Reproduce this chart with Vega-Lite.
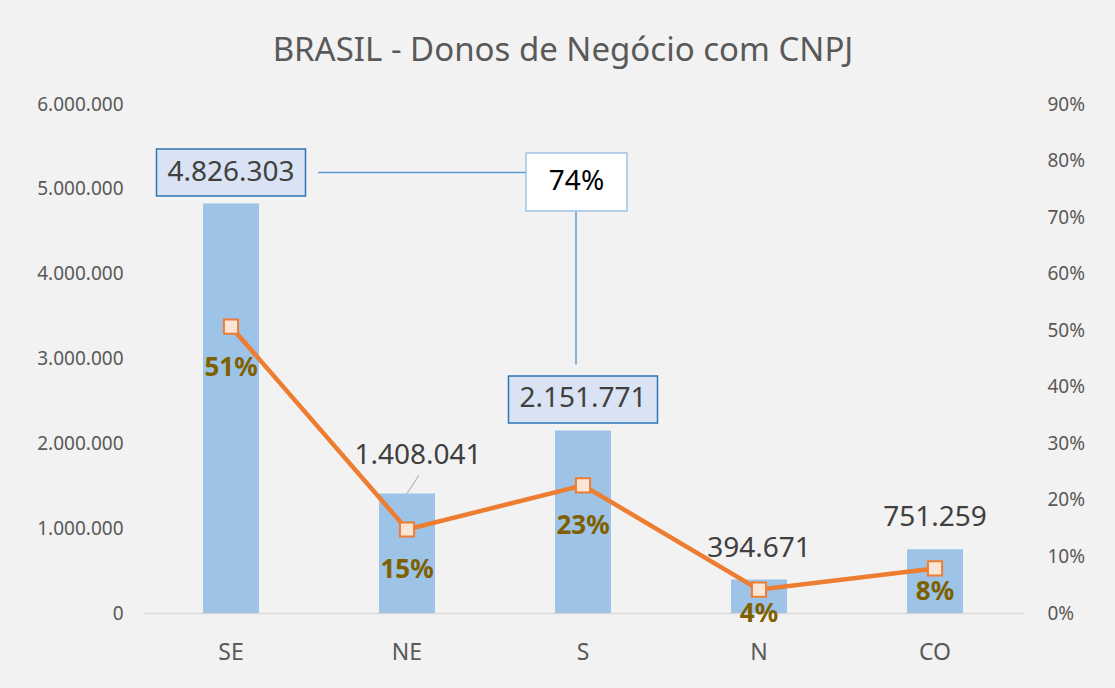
{
  "$schema": "https://vega.github.io/schema/vega-lite/v6.json",
  "width": 880,
  "height": 509,
  "autosize": {"type": "none"},
  "padding": {"left": 143, "top": 104, "right": 92, "bottom": 75},
  "background": "#f2f2f2",
  "title": {
    "text": "BRASIL - Donos de Negócio com CNPJ",
    "font": "Noto Sans",
    "fontSize": 33,
    "fontWeight": "normal",
    "color": "#595959",
    "anchor": "middle",
    "frame": "group",
    "baseline": "alphabetic",
    "offset": 1,
    "dx": -20
  },
  "config": {
    "font": "Noto Sans",
    "view": {"stroke": null},
    "axis": {"grid": false, "titleFont": "Noto Sans", "labelFont": "Noto Sans"},
    "locale": {"number": {"decimal": ",", "thousands": ".", "grouping": [3], "currency": ["R$", ""]}}
  },
  "datasets": {
    "regions": [
      {"region": "SE", "value": 4826303, "pct": 0.5063},
      {"region": "NE", "value": 1408041, "pct": 0.1477},
      {"region": "S", "value": 2151771, "pct": 0.2257},
      {"region": "N", "value": 394671, "pct": 0.0414},
      {"region": "CO", "value": 751259, "pct": 0.0788}
    ],
    "total": [{"label": "74%", "pct": 0.74}]
  },
  "data": {"name": "regions"},
  "encoding": {
    "x": {
      "field": "region",
      "type": "nominal",
      "sort": null,
      "scale": {"paddingInner": 0, "paddingOuter": 0},
      "axis": {
        "title": null,
        "labelAngle": 0,
        "ticks": false,
        "domainColor": "#d9d9d9",
        "domainWidth": 1.5,
        "labelFontSize": 23,
        "labelColor": "#595959",
        "labelPadding": 28
      }
    }
  },
  "layer": [
    {
      "encoding": {
        "y": {
          "field": "value",
          "type": "quantitative",
          "scale": {"domain": [0, 6000000]},
          "axis": {
            "title": null,
            "values": [0, 1000000, 2000000, 3000000, 4000000, 5000000, 6000000],
            "format": ",d",
            "domain": false,
            "ticks": false,
            "labelFontSize": 19,
            "labelColor": "#595959",
            "labelPadding": 20
          }
        }
      },
      "layer": [
        {"mark": {"type": "bar", "width": 56, "color": "#9dc3e6"}},
        {
          "transform": [{"filter": "datum.region === 'N' || datum.region === 'CO'"}],
          "mark": {"type": "text", "dy": -31, "fontSize": 28, "color": "#404040", "baseline": "middle"},
          "encoding": {"text": {"field": "value", "type": "quantitative", "format": ",d"}}
        },
        {
          "transform": [{"filter": "datum.region === 'NE'"}],
          "mark": {"type": "text", "dy": -38, "dx": 11, "fontSize": 28, "color": "#404040", "baseline": "middle"},
          "encoding": {"text": {"field": "value", "type": "quantitative", "format": ",d"}}
        },
        {
          "transform": [{"filter": "datum.region === 'NE'"}],
          "mark": {"type": "rule", "color": "#a6a6a6", "strokeWidth": 1, "xOffset": 0, "x2Offset": 12},
          "encoding": {"x2": {"datum": "NE"}, "y2": {"datum": 1625000}}
        },
        {
          "transform": [{"filter": "datum.region === 'SE'"}],
          "mark": {"type": "rule", "color": "#5b9bd5", "strokeWidth": 1.5, "xOffset": 87, "x2Offset": -57, "yOffset": -31},
          "encoding": {"x2": {"datum": "S"}}
        },
        {
          "transform": [{"filter": "datum.region === 'S'"}],
          "mark": {"type": "rule", "color": "#5b9bd5", "strokeWidth": 1.5, "xOffset": -7, "yOffset": -66},
          "encoding": {"y2": {"datum": 4739000}}
        },
        {
          "transform": [{"filter": "datum.region === 'SE' || datum.region === 'S'"}],
          "mark": {
            "type": "point",
            "shape": "M-1,-0.315H1V0.315H-1Z",
            "size": 22201,
            "filled": true,
            "fill": "#dae3f3",
            "stroke": "#2e75b6",
            "strokeWidth": 1.5,
            "opacity": 1,
            "yOffset": -31
          }
        },
        {
          "transform": [{"filter": "datum.region === 'SE' || datum.region === 'S'"}],
          "mark": {"type": "text", "yOffset": -31, "fontSize": 28, "color": "#404040", "baseline": "middle"},
          "encoding": {"text": {"field": "value", "type": "quantitative", "format": ",d"}}
        }
      ]
    },
    {
      "encoding": {
        "y": {
          "field": "pct",
          "type": "quantitative",
          "scale": {"domain": [0, 0.9]},
          "axis": {
            "title": null,
            "orient": "right",
            "values": [0, 0.1, 0.2, 0.3, 0.4, 0.5, 0.6, 0.7, 0.8, 0.9],
            "format": ".0%",
            "domain": false,
            "ticks": false,
            "labelFontSize": 19,
            "labelColor": "#595959",
            "labelPadding": 24
          }
        }
      },
      "layer": [
        {"mark": {"type": "line", "color": "#ed7d31", "strokeWidth": 4.5}},
        {
          "mark": {
            "type": "point",
            "shape": "square",
            "size": 200,
            "filled": true,
            "fill": "#fbe5d6",
            "stroke": "#ed7d31",
            "strokeWidth": 2,
            "opacity": 1
          }
        },
        {
          "transform": [{"filter": "datum.region === 'SE' || datum.region === 'NE' || datum.region === 'S'"}],
          "mark": {"type": "text", "dy": 41, "fontSize": 26, "fontWeight": "bold", "color": "#7f6000", "baseline": "middle"},
          "encoding": {"text": {"field": "pct", "type": "quantitative", "format": ".0%"}}
        },
        {
          "transform": [{"filter": "datum.region === 'N' || datum.region === 'CO'"}],
          "mark": {"type": "text", "dy": 24, "fontSize": 26, "fontWeight": "bold", "color": "#7f6000", "baseline": "middle"},
          "encoding": {"text": {"field": "pct", "type": "quantitative", "format": ".0%"}}
        },
        {
          "data": {"name": "total"},
          "mark": {
            "type": "point",
            "shape": "M-1,-0.574H1V0.574H-1Z",
            "size": 10201,
            "filled": true,
            "fill": "#ffffff",
            "stroke": "#9dc3e6",
            "strokeWidth": 1.5,
            "opacity": 1,
            "xOffset": -6.5,
            "yOffset": -12.5
          },
          "encoding": {"x": {"datum": "S"}}
        },
        {
          "data": {"name": "total"},
          "mark": {"type": "text", "xOffset": -6.5, "yOffset": -12.5, "fontSize": 28, "color": "#000000", "baseline": "middle"},
          "encoding": {"x": {"datum": "S"}, "text": {"field": "label"}}
        }
      ]
    }
  ],
  "resolve": {"scale": {"y": "independent"}}
}
